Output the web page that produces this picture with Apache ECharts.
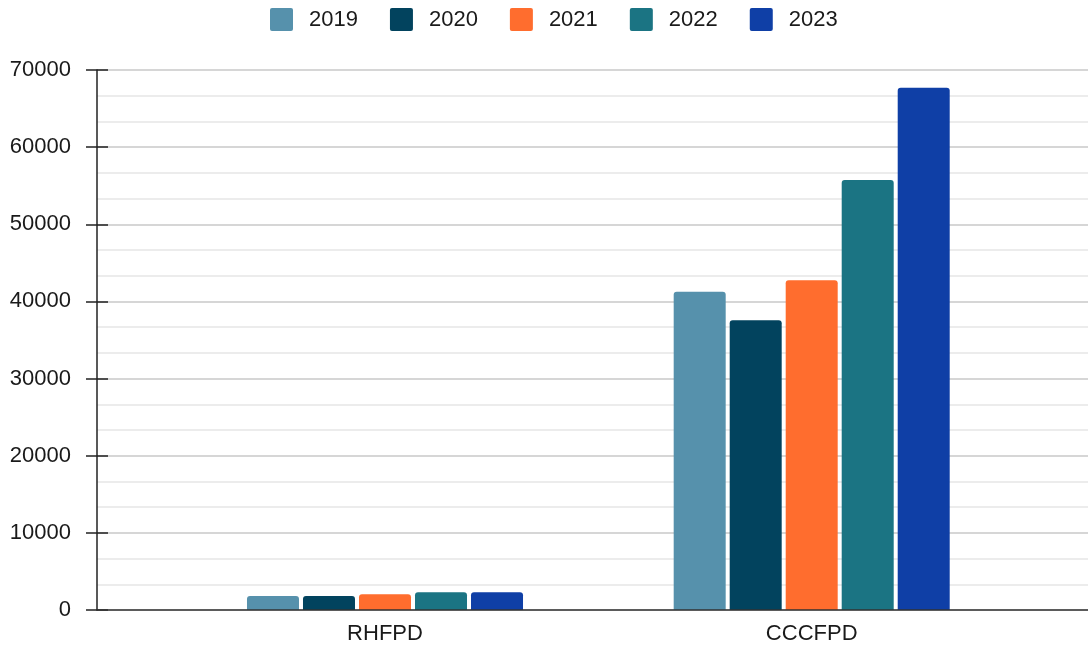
<!DOCTYPE html>
<html>
<head>
<meta charset="utf-8">
<script src="https://cdn.jsdelivr.net/npm/echarts@6/dist/echarts.min.js"></script>
<style>html,body{margin:0;padding:0;background:#fff}#c{width:1088px;height:649px}</style>
</head>
<body>
<div id="c"></div>
<script>
const categories = ['RHFPD', 'CCCFPD'];
const years = ['2019', '2020', '2021', '2022', '2023'];
const v2019 = [1800, 41250];
const v2020 = [1800, 37550];
const v2021 = [2050, 42750];
const v2022 = [2300, 55750];
const v2023 = [2300, 67700];
const yTicks = { min: 0, max: 70000, interval: 10000 };
const colors = ['#5691AC', '#02435E', '#FF6D2E', '#1B7483', '#0F3FA6'];

const seriesValues = [v2019, v2020, v2021, v2022, v2023];
const FONT = 'Liberation Sans, Arial, sans-serif';

const chart = echarts.init(document.getElementById('c'), null, { renderer: 'canvas' });
chart.setOption({
  animation: false,
  textStyle: { fontFamily: FONT },
  legend: {
    top: 8,
    left: 270,
    padding: 0,
    itemWidth: 23,
    itemHeight: 23,
    itemGap: 32,
    icon: 'path://M2,0 L21,0 Q23,0 23,2 L23,21 Q23,23 21,23 L2,23 Q0,23 0,21 L0,2 Q0,0 2,0 Z',
    textStyle: { fontSize: 22, color: '#1a1a1a', fontFamily: FONT, padding: [0, 0, 0, 11] },
    data: years
  },
  grid: [
    { left: 97, right: 0, top: 70, bottom: 39 },
    { left: 171.65, right: 62.95, top: 70, bottom: 39 }
  ],
  xAxis: [
    {
      gridIndex: 0, type: 'category', data: [''], z: 5,
      axisLine: { show: true, lineStyle: { color: '#333', width: 1.5 } },
      axisTick: { show: false }, axisLabel: { show: false }, splitLine: { show: false }
    },
    {
      gridIndex: 1, type: 'category', data: categories,
      axisLine: { show: false }, axisTick: { show: false },
      axisLabel: { fontSize: 22, color: '#1a1a1a', margin: 13, fontFamily: FONT }
    }
  ],
  yAxis: [
    {
      gridIndex: 0, type: 'value', min: yTicks.min, max: yTicks.max, interval: yTicks.interval,
      axisLine: { show: true, lineStyle: { color: '#222', width: 1.5 } },
      axisTick: { show: true, length: 11, lineStyle: { color: '#222', width: 1.5 } },
      axisLabel: { fontSize: 22, color: '#1a1a1a', margin: 26, fontFamily: FONT, formatter: v => String(v) },
      splitLine: { show: true, lineStyle: { color: '#c8c8c8', width: 1.5 } },
      minorTick: { show: false, splitNumber: 3 },
      minorSplitLine: { show: true, lineStyle: { color: '#e6e6e6', width: 1.5 } }
    },
    {
      gridIndex: 0, type: 'value', min: yTicks.min, max: yTicks.max, interval: yTicks.interval,
      position: 'left',
      axisLine: { show: false },
      axisTick: { show: true, inside: true, length: 11, lineStyle: { color: '#222', width: 1.5 } },
      axisLabel: { show: false }, splitLine: { show: false }
    },
    {
      gridIndex: 1, type: 'value', min: yTicks.min, max: yTicks.max, interval: yTicks.interval,
      show: false
    }
  ],
  series: years.map((y, i) => ({
    name: y,
    type: 'bar',
    xAxisIndex: 1,
    yAxisIndex: 2,
    data: seriesValues[i],
    barWidth: 52,
    barGap: '7.7%',
    itemStyle: { color: colors[i], borderRadius: [3, 3, 0, 0] }
  })),
  color: colors
});
</script>
</body>
</html>
